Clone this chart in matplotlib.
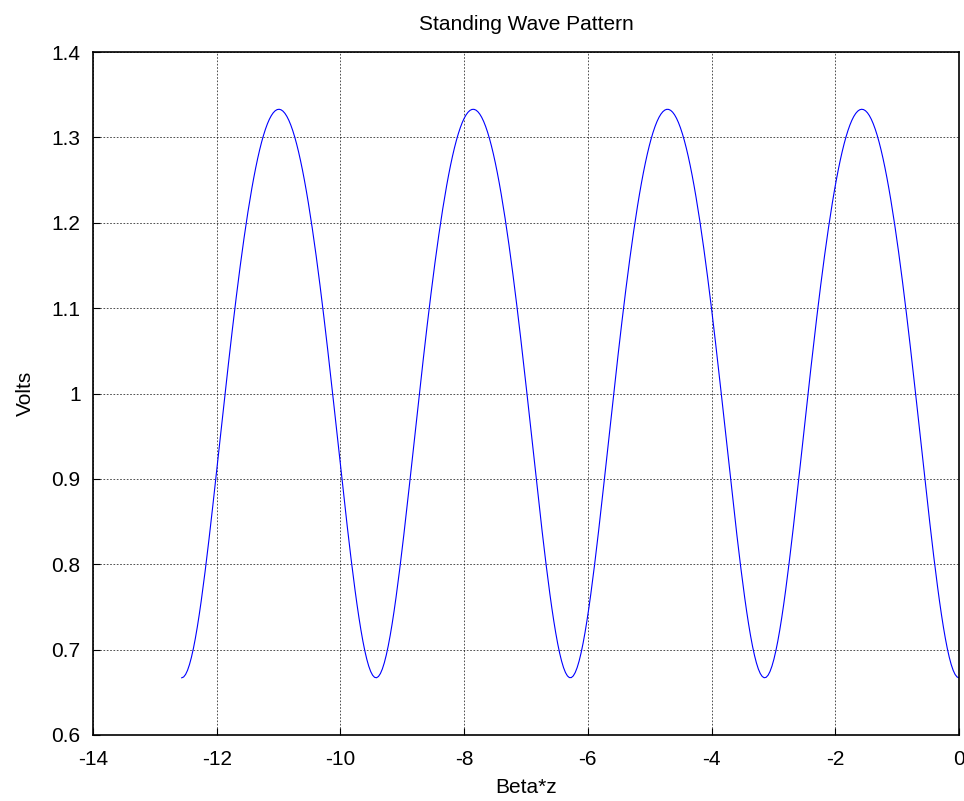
import numpy as np
import matplotlib
matplotlib.use("Agg")
import matplotlib.pyplot as plt

plt.rcParams['font.family'] = ['Liberation Sans', 'DejaVu Sans']

# Values
v_max = 1.333          # voltage maximum
v_min = 0.667          # voltage minimum (at beta*z = 0)
betaz_start = -4 * np.pi
betaz_end = 0.0
n_samples = 400

xticks = [-14, -12, -10, -8, -6, -4, -2, 0]
yticks = [0.6, 0.7, 0.8, 0.9, 1.0, 1.1, 1.2, 1.3, 1.4]
ytick_labels = ['0.6', '0.7', '0.8', '0.9', '1', '1.1', '1.2', '1.3', '1.4']

# Standing wave |1 + Gamma e^{j 2 beta z}| with Gamma from VSWR readout
v0 = (v_max + v_min) / 2
gamma = -(v_max - v_min) / (v_max + v_min)
betaz = np.linspace(betaz_start, betaz_end, n_samples)
volts = v0 * np.abs(1 + gamma * np.exp(2j * betaz))

fig = plt.figure(figsize=(9.64, 8.01), dpi=100)
ax = fig.add_axes([0.0965, 0.0824, 0.8983, 0.8526])
ax.plot(betaz, volts, color='#0000ff', linewidth=0.8)
ax.set_xlim(-14, 0)
ax.set_ylim(0.6, 1.4)
ax.set_xticks(xticks)
ax.set_xticklabels([str(t) for t in xticks])
ax.set_yticks(yticks)
ax.set_yticklabels(ytick_labels)
ax.grid(True, color='black', linestyle=(0, (2, 2)), linewidth=0.6, alpha=0.8)
ax.tick_params(axis='both', direction='in', labelsize=15, length=5)
ax.tick_params(axis='x', pad=11)
ax.tick_params(axis='y', pad=9)
for s in ax.spines.values():
    s.set_linewidth(1.2)
ax.set_title('Standing Wave Pattern', fontsize=15, pad=16)
ax.set_xlabel('Beta*z', fontsize=15, labelpad=6)
ax.set_ylabel('Volts', fontsize=15, labelpad=12)

fig.savefig('out.png', dpi=100)
